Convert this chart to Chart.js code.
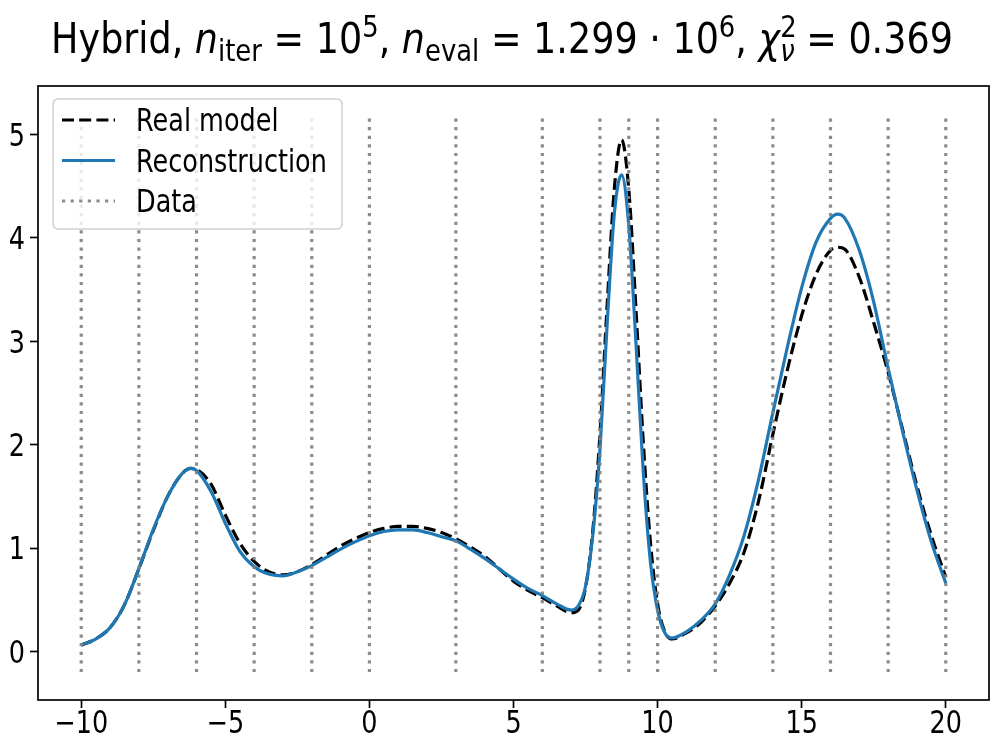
<!DOCTYPE html>
<html>
<head>
<meta charset="utf-8">
<title>Hybrid reconstruction</title>
<script src="https://cdn.jsdelivr.net/npm/chart.js@4.4.1/dist/chart.umd.min.js"></script>
<style>
  html, body { margin: 0; padding: 0; background: #fff; }
  canvas { display: block; }
</style>
</head>
<body>
<canvas id="chart" width="1000" height="750"></canvas>
<script>
const xValues = [
  -10, -9.5, -9, -8.5, -8, -7.5, -7, -6.5, -6.2, -6,
  -5.5, -5, -4.5, -4, -3.5, -3, -2.5, -2, -1.5, -1,
  -0.5, 0, 0.5, 1, 1.5, 2, 2.5, 3, 3.5, 4,
  4.5, 5, 5.5, 6, 6.5, 7, 7.25, 7.5, 7.75, 8,
  8.25, 8.5, 8.75, 9, 9.25, 9.5, 9.75, 10, 10.25, 10.5,
  11, 11.5, 12, 12.5, 13, 13.5, 14, 14.5, 15, 15.5,
  16, 16.25, 16.5, 17, 17.5, 18, 18.5, 19, 19.5, 20
];
const realModel = [
  0.06, 0.12, 0.23, 0.45, 0.80, 1.17, 1.50, 1.72, 1.77, 1.76,
  1.62, 1.32, 1.05, 0.87, 0.77, 0.74, 0.77, 0.84, 0.93, 1.02,
  1.09, 1.15, 1.19, 1.21, 1.21, 1.19, 1.15, 1.09, 1.01, 0.92,
  0.80, 0.68, 0.59, 0.52, 0.44, 0.375, 0.40, 0.62, 1.16, 2.10,
  3.35, 4.48, 4.95, 4.47, 3.31, 2.04, 1.06, 0.46, 0.19, 0.12,
  0.18, 0.28, 0.44, 0.66, 0.96, 1.45, 2.10, 2.72, 3.25, 3.65,
  3.88, 3.91, 3.89, 3.62, 3.18, 2.70, 2.15, 1.60, 1.12, 0.72
];
const reconstruction = [
  0.06, 0.12, 0.23, 0.45, 0.80, 1.18, 1.50, 1.72, 1.77, 1.75,
  1.55, 1.24, 0.97, 0.82, 0.75, 0.73, 0.77, 0.83, 0.91, 0.99,
  1.06, 1.12, 1.16, 1.175, 1.175, 1.15, 1.11, 1.07, 0.99, 0.90,
  0.80, 0.70, 0.61, 0.54, 0.46, 0.40, 0.44, 0.63, 1.12, 1.95,
  3.17, 4.24, 4.61, 4.12, 2.98, 1.75, 0.87, 0.40, 0.18, 0.13,
  0.19, 0.30, 0.46, 0.74, 1.12, 1.66, 2.31, 2.94, 3.52, 3.96,
  4.19, 4.23, 4.19, 3.88, 3.38, 2.74, 2.13, 1.56, 1.06, 0.66
];
const dataPositions = [-10, -8, -6, -4, -2, 0, 3, 6, 8, 9, 10, 12, 14, 16, 18, 20];
const dataLineRange = [-0.2, 5.2];
const xTicks = [-10, -5, 0, 5, 10, 15, 20];
const yTicks = [0, 1, 2, 3, 4, 5];

const FONT = "'DejaVu Sans', 'Liberation Sans', sans-serif";
const BLUE = '#1f77b4';
const GRAY = 'rgba(128,128,128,0.9)';
const LW = 3.2;
const TEXT_SIZE = 25.5;   // ticks and legend
const TITLE_SIZE = 36.5;
const STRETCH = 1.22;     // reference glyphs are taller than they are wide

// title pieces, mathtext style (italic variables, small sub/superscripts)
const titleParts = [
  { text: 'Hybrid, ' },
  { text: 'n', italic: true },
  { text: 'iter', pos: 'sub' },
  { text: ' = 10' },
  { text: '5', pos: 'sup' },
  { text: ', ' },
  { text: 'n', italic: true },
  { text: 'eval', pos: 'sub' },
  { text: ' = 1.299 \u00b7 10' },
  { text: '6', pos: 'sup' },
  { text: ', ' },
  { text: '\u03c7', italic: true },
  { text: '2', pos: 'sup', noAdvance: true },
  { text: '\u03bd', pos: 'sub', italic: true },
  { text: ' = 0.369' }
];

function minusLabel(v) {
  return v < 0 ? '\u2212' + Math.abs(v) : String(v);
}

function stretchText(ctx, text, x, y, s) {
  ctx.save();
  ctx.translate(x, y);
  ctx.scale(1, s);
  ctx.fillText(text, 0, 0);
  ctx.restore();
}

const curve = ys => xValues.map((x, i) => ({ x, y: ys[i] }));

const datasets = [
  {
    label: 'Real model',
    inLegend: true,
    data: curve(realModel),
    borderColor: '#000',
    borderWidth: LW,
    borderDash: [12, 5.2],
    order: 2
  },
  {
    label: 'Reconstruction',
    inLegend: true,
    data: curve(reconstruction),
    borderColor: BLUE,
    borderWidth: LW,
    order: 1
  }
];
dataPositions.forEach((x, i) => {
  datasets.push({
    label: 'Data',
    inLegend: i === 0,
    data: dataLineRange.map(y => ({ x, y })),
    borderColor: GRAY,
    borderWidth: LW,
    borderDash: [3.2, 5.4],
    cubicInterpolationMode: 'default',
    order: 0
  });
});

const framePlugin = {
  id: 'frame',
  afterDraw(chart) {
    const { ctx, chartArea: a } = chart;
    ctx.save();
    ctx.strokeStyle = '#000';
    ctx.lineWidth = 1.7;
    ctx.strokeRect(a.left, a.top, a.right - a.left, a.bottom - a.top);
    ctx.restore();
  }
};

const tickLabelPlugin = {
  id: 'tickLabels',
  afterDraw(chart) {
    const { ctx, chartArea: a } = chart;
    const xs = chart.scales.x, ys = chart.scales.y;
    ctx.save();
    ctx.font = TEXT_SIZE + 'px ' + FONT;
    ctx.fillStyle = '#000';
    ctx.textBaseline = 'alphabetic';
    ctx.textAlign = 'center';
    xs.ticks.forEach(t => stretchText(ctx, t.label, xs.getPixelForValue(t.value), a.bottom + 33, STRETCH));
    ctx.textAlign = 'right';
    const half = 0.365 * TEXT_SIZE * STRETCH;
    ys.ticks.forEach(t => stretchText(ctx, t.label, a.left - 13, ys.getPixelForValue(t.value) + half, STRETCH));
    ctx.restore();
  }
};

const legendPlugin = {
  id: 'boxLegend',
  afterDraw(chart) {
    const { ctx, chartArea: a } = chart;
    const items = chart.data.datasets.filter(d => d.inLegend);
    const x0 = a.left + 15, y0 = a.top + 13, w = 289, h = 130, r = 5;
    ctx.save();
    ctx.beginPath();
    ctx.roundRect(x0, y0, w, h, r);
    ctx.fillStyle = 'rgba(255,255,255,0.8)';
    ctx.fill();
    ctx.strokeStyle = '#d0d0d0';
    ctx.lineWidth = 1.5;
    ctx.stroke();
    ctx.font = TEXT_SIZE + 'px ' + FONT;
    ctx.textBaseline = 'alphabetic';
    ctx.fillStyle = '#000';
    const half = 0.365 * TEXT_SIZE * STRETCH;
    items.forEach((d, i) => {
      const cy = y0 + 21 + i * 40.5;
      ctx.beginPath();
      ctx.setLineDash(d.borderDash || []);
      ctx.strokeStyle = d.borderColor;
      ctx.lineWidth = d.borderWidth;
      ctx.moveTo(x0 + 9, cy);
      ctx.lineTo(x0 + 62, cy);
      ctx.stroke();
      ctx.setLineDash([]);
      stretchText(ctx, d.label, x0 + 83, cy + half, STRETCH);
    });
    ctx.restore();
  }
};

const titlePlugin = {
  id: 'mathTitle',
  afterDraw(chart) {
    const { ctx } = chart;
    const big = TITLE_SIZE, small = TITLE_SIZE * 0.71;
    const fontOf = p => (p.italic ? 'italic ' : '') + (p.pos ? small : big) + 'px ' + FONT;
    let total = 0;
    const widths = titleParts.map(p => {
      ctx.font = fontOf(p);
      const wd = ctx.measureText(p.text).width;
      if (!p.noAdvance) total += wd;
      return wd;
    });
    const baseY = 53;
    let x = 502 - total / 2;
    ctx.save();
    ctx.fillStyle = '#000';
    ctx.textBaseline = 'alphabetic';
    titleParts.forEach((p, i) => {
      ctx.font = fontOf(p);
      let y = baseY;
      if (p.pos === 'sub') y += 8;
      if (p.pos === 'sup') y -= 16;
      stretchText(ctx, p.text, x, y, 1.15);
      if (!p.noAdvance) x += widths[i];
    });
    ctx.restore();
  }
};

new Chart(document.getElementById('chart'), {
  type: 'scatter',
  data: { datasets },
  options: {
    responsive: false,
    devicePixelRatio: 1,
    animation: false,
    events: [],
    showLine: true,
    elements: {
      point: { radius: 0 },
      line: { cubicInterpolationMode: 'monotone', fill: false, borderCapStyle: 'butt' }
    },
    layout: { padding: { top: 86, right: 11, left: 0, bottom: 0 } },
    plugins: {
      legend: { display: false },
      title: { display: false },
      tooltip: { enabled: false }
    },
    scales: {
      x: {
        type: 'linear',
        min: -11.5,
        max: 21.5,
        afterBuildTicks: s => { s.ticks = xTicks.map(v => ({ value: v })); },
        afterFit: s => { s.height = 50; },
        grid: { drawOnChartArea: false, drawTicks: true, tickLength: 8, tickWidth: 1.7, tickColor: '#000' },
        border: { display: false },
        ticks: { display: false, callback: minusLabel }
      },
      y: {
        type: 'linear',
        min: -0.47,
        max: 5.47,
        afterBuildTicks: s => { s.ticks = yTicks.map(v => ({ value: v })); },
        afterFit: s => { s.width = 38; },
        grid: { drawOnChartArea: false, drawTicks: true, tickLength: 8, tickWidth: 1.7, tickColor: '#000' },
        border: { display: false },
        ticks: { display: false, callback: minusLabel }
      }
    }
  },
  plugins: [framePlugin, tickLabelPlugin, legendPlugin, titlePlugin]
});
</script>
</body>
</html>
